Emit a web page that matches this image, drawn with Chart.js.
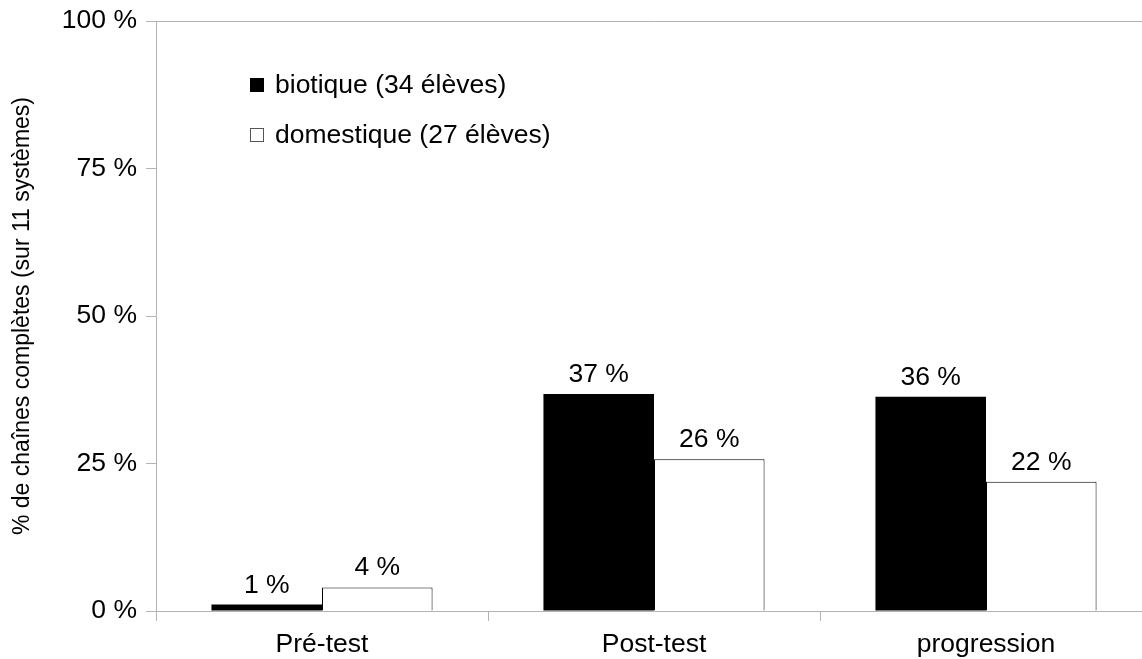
<!DOCTYPE html>
<html>
<head>
<meta charset="utf-8">
<script src="https://cdn.jsdelivr.net/npm/chart.js@4.4.1/dist/chart.umd.min.js"></script>
<style>
html, body { margin: 0; padding: 0; background: #fff; overflow: hidden; }
#wrap { width: 1152px; height: 659px; }
</style>
</head>
<body>
<div id="wrap"><canvas id="chart" width="1152" height="659"></canvas></div>
<script>
const categories = ['Pré-test', 'Post-test', 'progression'];
const seriesNames = ['biotique (34 élèves)', 'domestique (27 élèves)'];
const biotique = [1.1, 36.8, 36.3];
const domestique = [4.0, 25.7, 21.9];
const yTicks = [0, 25, 50, 75, 100];

const FONT = 'Liberation Sans, Arial, sans-serif';
const AXIS = '#b3b3b3';
const SIZE = 26.5;

Chart.defaults.font.family = FONT;
Chart.defaults.color = '#000';

// value labels above each bar
const barLabels = {
    id: 'barLabels',
    afterDatasetsDraw(chart) {
        const ctx = chart.ctx;
        ctx.save();
        ctx.font = SIZE + 'px ' + FONT;
        ctx.fillStyle = '#000';
        ctx.textAlign = 'center';
        ctx.textBaseline = 'alphabetic';
        chart.data.datasets.forEach((ds, i) => {
            chart.getDatasetMeta(i).data.forEach((bar, j) => {
                ctx.fillText(Math.round(ds.data[j]) + ' %', bar.x, bar.y - 12);
            });
        });
        ctx.restore();
    }
};

// legend drawn inside the plot, top-left
const innerLegend = {
    id: 'innerLegend',
    afterDraw(chart) {
        const ctx = chart.ctx;
        const area = chart.chartArea;
        const x = area.left + 94;
        let y = area.top + 64;
        ctx.save();
        ctx.font = SIZE + 'px ' + FONT;
        ctx.textBaseline = 'middle';
        ctx.textAlign = 'left';
        chart.data.datasets.forEach((ds) => {
            ctx.fillStyle = ds.backgroundColor;
            ctx.fillRect(x, y - 7, 14, 14);
            ctx.strokeStyle = ds.backgroundColor === '#000000' ? '#000000' : '#555';
            ctx.lineWidth = 1;
            ctx.strokeRect(x + 0.5, y - 6.5, 13, 13);
            ctx.fillStyle = '#000';
            ctx.fillText(ds.label, x + 25, y + 1);
            y += 50;
        });
        ctx.restore();
    }
};

new Chart(document.getElementById('chart').getContext('2d'), {
    type: 'bar',
    data: {
        labels: categories,
        datasets: [{
            label: seriesNames[0],
            data: biotique,
            backgroundColor: '#000000',
            borderWidth: 0
        }, {
            label: seriesNames[1],
            data: domestique,
            backgroundColor: '#ffffff',
            borderColor: '#000000',
            borderWidth: 1
        }]
    },
    options: {
        responsive: false,
        animation: false,
        devicePixelRatio: 1,
        categoryPercentage: 0.666,
        barPercentage: 1.0,
        layout: { padding: { top: 21, right: 0, bottom: 0, left: 0 } },
        plugins: {
            legend: { display: false },
            tooltip: { enabled: false }
        },
        scales: {
            x: {
                grid: { offset: true, drawOnChartArea: false, tickLength: 10, color: AXIS },
                border: { color: AXIS },
                ticks: { color: '#000', font: { size: SIZE }, padding: 8 },
                afterFit: (s) => { s.height = 48; }
            },
            xTop: {
                type: 'category',
                position: 'top',
                grid: { display: false },
                ticks: { display: false },
                border: { color: AXIS },
                afterFit: (s) => { s.height = 0; }
            },
            y: {
                min: 0,
                max: 100,
                afterBuildTicks: (s) => { s.ticks = yTicks.map(v => ({ value: v })); },
                grid: { drawOnChartArea: false, tickLength: 10, color: AXIS },
                border: { color: AXIS },
                ticks: {
                    color: '#000',
                    font: { size: SIZE },
                    padding: 9,
                    callback: (v) => v + ' %'
                },
                title: {
                    display: true,
                    text: '% de chaînes complètes (sur 11 systèmes)',
                    color: '#000',
                    font: { size: 23 },
                    padding: { top: 9, bottom: 0 }
                },
                afterFit: (s) => { s.width = 156; s.paddingTop = 0; s.paddingBottom = 0; }
            }
        }
    },
    plugins: [barLabels, innerLegend]
});
</script>
</body>
</html>
